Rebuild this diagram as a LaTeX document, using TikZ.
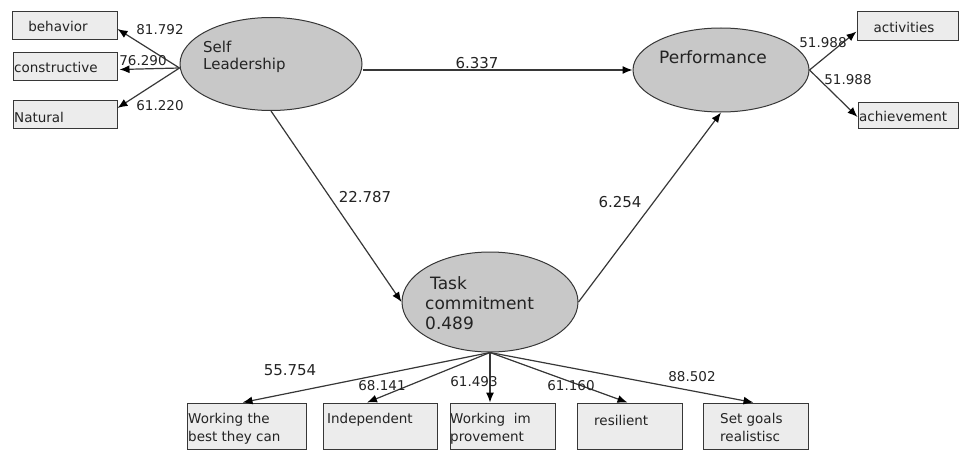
\documentclass[tikz,border=0pt]{standalone}
\usepackage{fontspec}
\setmainfont{DejaVu Sans}
\usetikzlibrary{arrows.meta,calc,shapes.geometric}
\definecolor{ellfill}{RGB}{200,200,200}
\definecolor{boxfill}{RGB}{236,236,236}
\definecolor{edgecol}{RGB}{55,55,55}
\definecolor{txtcol}{RGB}{35,35,35}
\tikzset{
  latent/.style={ellipse, draw=edgecol, line width=1pt, fill=ellfill, inner sep=0pt},
  indic/.style={rectangle, draw=edgecol, line width=1pt, fill=boxfill, inner sep=0pt},
  conn/.style={draw=edgecol, line width=1.2pt, -{Latex[length=10pt,width=8pt,black]}},
  small/.style={font=\fontsize{13.5}{18}\selectfont, text=txtcol, inner sep=0pt},
  mid/.style={font=\fontsize{15}{18}\selectfont, text=txtcol, inner sep=0pt},
  big/.style={font=\fontsize{17}{20}\selectfont, text=txtcol, inner sep=0pt},
}
\begin{document}
\begin{tikzpicture}[x=1pt,y=-1pt]
\useasboundingbox (0,0) rectangle (963,452);
% latent variables
\node[latent, minimum width=182pt, minimum height=93pt] (self) at (271,64) {};
\node[latent, minimum width=176pt, minimum height=84pt] (perf) at (721,70) {};
\node[latent, minimum width=176pt, minimum height=100pt] (task) at (490,302) {};
% indicator boxes
\node[indic, minimum width=105pt, minimum height=28pt] (beh) at (64.5,26) {};
\node[indic, minimum width=104pt, minimum height=27pt] (cons) at (65,66.5) {};
\node[indic, minimum width=104pt, minimum height=28pt] (nat) at (65,114) {};
\node[indic, minimum width=101pt, minimum height=29pt] (act) at (907.5,26.5) {};
\node[indic, minimum width=100pt, minimum height=26pt] (ach) at (908,115) {};
\node[indic, minimum width=119pt, minimum height=46pt] (b1) at (246.5,426) {};
\node[indic, minimum width=114pt, minimum height=46pt] (b2) at (380,426) {};
\node[indic, minimum width=105pt, minimum height=46pt] (b3) at (502.5,426) {};
\node[indic, minimum width=105pt, minimum height=46pt] (b4) at (629.5,426) {};
\node[indic, minimum width=105pt, minimum height=46pt] (b5) at (755.5,426) {};
% texts in latent variables
\node[mid, anchor=west] (tself) at (203,47) {Self};
\node[mid, anchor=west] (tlead) at (203,65) {Leadership};
\node[big] (tperf) at (713,57) {Performance};
\node[big, anchor=west] (ttask) at (430,283) {Task};
\node[big, anchor=west] (tcomm) at (425,303) {commitment};
\node[big, anchor=west] (tr2) at (425,323) {0.489};
% texts in boxes
\node[small] (tbeh) at (58,26) {behavior};
\node[small, anchor=west] (tcons) at (14,67) {constructive};
\node[small, anchor=west] (tnat) at (14,117) {Natural};
\node[small] (tact) at (904,27) {activities};
\node[small, anchor=west] (tach) at (859,116) {achievement};
\node[small, anchor=west] (tb1a) at (188,420) {Working the};
\node[small, anchor=west] (tb1b) at (188,438) {best they can};
\node[small, anchor=west] (tb2) at (327,420) {Independent};
\node[small, anchor=west] (tb3a) at (450,420) {Working\ \ im};
\node[small, anchor=west] (tb3b) at (450,438) {provement};
\node[small, anchor=west] (tb4) at (594,420) {resilient};
\node[small, anchor=west] (tb5a) at (720,420) {Set goals};
\node[small, anchor=west] (tb5b) at (720,436) {realistisc};
% structural paths
\draw[conn] (self.east |- perf.west) -- (perf.west);
\draw[conn] (self.south) -- (task.west);
\draw[conn] (task.east) -- (perf.south);
% measurement paths
\draw[conn] ($(self.west)+(0,4)$) -- ($(beh.east)+(0,3)$);
\draw[conn] ($(self.west)+(0,4)$) -- ($(cons.east)+(2,3)$);
\draw[conn] ($(self.west)+(0,4)$) -- ($(nat.east)+(0,-6)$);
\draw[conn] (perf.east) -- ($(act.west)+(0,5)$);
\draw[conn] (perf.east) -- ($(ach.west)+(0,2)$);
\draw[conn] (task.south) -- ($(b1.north)+(-4,0)$);
\draw[conn] (task.south) -- ($(b2.north)+(-13,0)$);
\draw[conn] (task.south) -- (task.south |- b3.north);
\draw[conn] (task.south) -- ($(b4.north)+(-2,0)$);
\draw[conn] (task.south) -- ($(b5.north)+(-2,0)$);
% path labels
\node[small] (l1) at (160,30) {81.792};
\node[small] (l2) at (143,61) {76.290};
\node[small] (l3) at (160,106) {61.220};
\node[mid] (l4) at (477,63) {6.337};
\node[mid] (l5) at (365,197) {22.787};
\node[mid] (l6) at (620,202) {6.254};
\node[small] (l7) at (823,43) {51.988};
\node[small] (l8) at (848,80) {51.988};
\node[mid] (l9) at (290,370) {55.754};
\node[small] (l10) at (382,386) {68.141};
\node[small] (l11) at (474,382) {61.493};
\node[small] (l12) at (571,386) {61.160};
\node[small] (l13) at (692,377) {88.502};
\end{tikzpicture}
\end{document}
